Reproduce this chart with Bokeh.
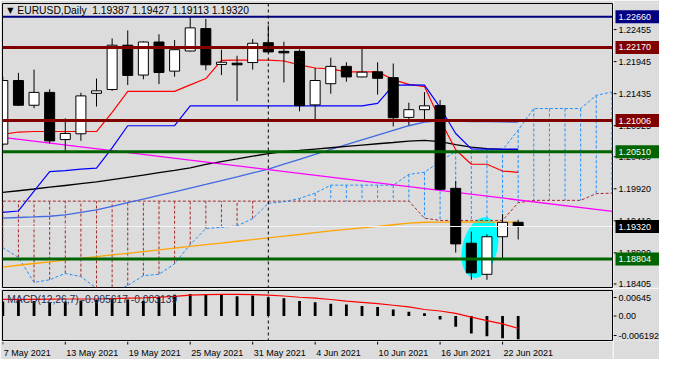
from bokeh.plotting import figure
from bokeh.layouts import column, row
from bokeh.models import Range1d, Label, Span
from bokeh.core.properties import value
from bokeh.embed import file_html
from bokeh.resources import INLINE

# ---------------- data ----------------
opens = [1.20632, 1.21644, 1.21250, 1.21455, 1.20704, 1.20796, 1.21440, 1.21501, 1.22206, 1.21731,
         1.22257, 1.21793, 1.22114, 1.22471, 1.21900, 1.21920, 1.21930, 1.22246, 1.22108, 1.22108,
         1.21256, 1.21593, 1.21869, 1.21701, 1.21782, 1.21690, 1.21057, 1.21180, 1.21245, 1.19927,
         1.19054, 1.18559, 1.19157, 1.19387]
highs = [1.21705, 1.21766, 1.21817, 1.21506, 1.21042, 1.21449, 1.21675, 1.22314, 1.22441, 1.22268,
         1.22380, 1.22288, 1.22651, 1.22625, 1.22134, 1.22038, 1.22303, 1.22522, 1.22262, 1.22139,
         1.21843, 1.22007, 1.21935, 1.22160, 1.21935, 1.21915, 1.21291, 1.21460, 1.21333, 1.20045,
         1.19238, 1.19196, 1.19518, 1.19427]
lows = [1.20610, 1.21240, 1.21204, 1.20643, 1.20505, 1.20683, 1.21230, 1.21480, 1.21572, 1.21664,
        1.21587, 1.21705, 1.22105, 1.21808, 1.21731, 1.21317, 1.21817, 1.22090, 1.21613, 1.21153,
        1.21016, 1.21434, 1.21624, 1.21695, 1.21419, 1.20913, 1.20934, 1.20990, 1.19900, 1.18905,
        1.18472, 1.18472, 1.18804, 1.19113]
closes = [1.21644, 1.21250, 1.21455, 1.20683, 1.20801, 1.21399, 1.21480, 1.22206, 1.21725, 1.22257,
          1.21771, 1.22134, 1.22482, 1.21894, 1.21935, 1.21894, 1.22237, 1.22099, 1.22084, 1.21245,
          1.21644, 1.21869, 1.21701, 1.21777, 1.21679, 1.21051, 1.21180, 1.21241, 1.19912, 1.19043,
          1.18583, 1.19157, 1.19386, 1.19320]

tenkan = [1.20786, 1.20824, 1.20832, 1.20832, 1.20832, 1.20832, 1.20832, 1.21138, 1.21471, 1.21471,
          1.21471, 1.21471, 1.21575, 1.21675, 1.21966, 1.21970, 1.21970, 1.21970, 1.21955, 1.21894,
          1.21843, 1.21828, 1.21782, 1.21782, 1.21782, 1.21659, 1.21583, 1.21547, 1.21016, 1.20541,
          1.20311, 1.20311, 1.20203, 1.20183]
kijun = [1.19544, 1.19567, 1.19882, 1.20193, 1.20211, 1.20234, 1.20249, 1.20571, 1.20924, 1.20924,
         1.20924, 1.20924, 1.21241, 1.21241, 1.21241, 1.21241, 1.21241, 1.21241, 1.21241, 1.21241,
         1.21241, 1.21241, 1.21241, 1.21241, 1.21281, 1.21567, 1.21575, 1.21572, 1.21215, 1.20801,
         1.20556, 1.20551, 1.20551, 1.20551]
senkou_a = [1.18982, 1.18829, 1.18430, 1.18472, 1.18574, 1.18522, 1.18334, 1.18272, 1.18380, 1.18537,
            1.18559, 1.18727, 1.19034, 1.19288, 1.19307, 1.19330, 1.19445, 1.19690, 1.19713, 1.19767,
            1.19851, 1.19978, 1.19978, 1.19978, 1.19978, 1.19978, 1.20150, 1.20183, 1.20357, 1.20513,
            1.20522, 1.20533, 1.20541, 1.20855, 1.21198, 1.21198, 1.21198, 1.21198, 1.21408, 1.21462]
senkou_b = [1.19724] * 27 + [1.19452] + [1.19417] * 5 + [1.19698] + [1.19736] * 4 + [1.19843, 1.19851]

ma_black = [1.19862, 1.19889, 1.19917, 1.19946, 1.19973, 1.20001, 1.20029, 1.20065, 1.20102, 1.20139,
            1.20176, 1.20212, 1.20255, 1.20308, 1.20354, 1.20395, 1.20439, 1.20481, 1.20513, 1.20531,
            1.20553, 1.20574, 1.20596, 1.20617, 1.20637, 1.20657, 1.20678, 1.20691, 1.20671, 1.20625,
            1.20582, 1.20559, 1.20547, 1.20541]
ma_blue = [1.19452, 1.19463, 1.19472, 1.19483, 1.19506, 1.19544, 1.19583, 1.19641, 1.19699, 1.19757,
           1.19814, 1.19872, 1.19931, 1.19989, 1.20050, 1.20111, 1.20173, 1.20234, 1.20312, 1.20390,
           1.20468, 1.20547, 1.20623, 1.20698, 1.20773, 1.20849, 1.20924, 1.20980, 1.21000, 1.20996,
           1.20991, 1.20988, 1.20985, 1.20982]
ma_orange = [1.18675, 1.18703, 1.18731, 1.18757, 1.18784, 1.18812, 1.18839, 1.18867, 1.18893, 1.18921,
             1.18948, 1.18976, 1.19003, 1.19031, 1.19057, 1.19085, 1.19112, 1.19140, 1.19166, 1.19193,
             1.19221, 1.19249, 1.19275, 1.19299, 1.19322, 1.19348, 1.19373, 1.19388, 1.19391, 1.19392,
             1.19392, 1.19391, 1.19389, 1.19388]

trend_x = [0, 39.04]
trend_y = [1.20740, 1.19560]

level_prices = [1.22660, 1.22170, 1.21006, 1.20510, 1.18804]
level_colors = ["#000080", "#800000", "#800000", "#006400", "#006400"]
level_widths = [2, 3, 3, 3, 3]
bid_price = 1.19320

macd_main = [0.0037, 0.0040, 0.0038, 0.0035, 0.0036, 0.0039, 0.0041, 0.0043, 0.0042, 0.00385,
             0.0049, 0.0054, 0.00555, 0.00555, 0.00555, 0.0050, 0.0052, 0.00474, 0.0045, 0.0038,
             0.00345, 0.0031, 0.0029, 0.00255, 0.0023, 0.00166, 0.0011, 0.0007, -0.0009, -0.0027,
             -0.0044, -0.0051, -0.0056, -0.0059]
macd_signal = [0.0042, 0.0042, 0.0042, 0.00425, 0.0043, 0.0043, 0.0043, 0.0044, 0.0045, 0.00457,
               0.00474, 0.00498, 0.0053, 0.0054, 0.00547, 0.00547, 0.0054, 0.0053, 0.00506, 0.00474,
               0.0045, 0.00418, 0.00377, 0.00345, 0.00311, 0.00272, 0.00231, 0.00165, 0.00126, 0.00068,
               -0.00029, -0.00118, -0.00199, -0.00314]

date_ticks = [0, 4, 8, 12, 16, 20, 24, 28, 32]
date_labels = ["7 May 2021", "13 May 2021", "19 May 2021", "25 May 2021", "31 May 2021",
               "4 Jun 2021", "10 Jun 2021", "16 Jun 2021", "22 Jun 2021"]
price_ticks = [1.22455, 1.21945, 1.21435, 1.20925, 1.20430, 1.19920, 1.19410, 1.18900, 1.18405]
macd_tick_labels = ["0.00645", "0.00", "-0.006192"]
marker_bar = 17
ellipse_center = (30.55, 1.18985)

header = "EURUSD,Daily\u00a0\u00a01.19387 1.19427 1.19113 1.19320"
macd_header = "MACD(12,26,7) -0.005617 -0.003139"

# ---------------- style ----------------
BG = "#dcdcdc"
FONT = "Liberation Sans"
FS = "9px"
HFS = "10.3px"
X_START, X_END = -0.02, 39.04
Y_LO, Y_HI = 1.18349, 1.22870
M_LO, M_HI = -0.006192, 0.00645
PX_PER_PRICE = 284 / (Y_HI - Y_LO)
PX_PER_MACD = 50 / (M_HI - M_LO)

xr = Range1d(X_START, X_END)
yr = Range1d(Y_LO, Y_HI)
myr = Range1d(M_LO, M_HI)


def base_fig(w, h, x_range, y_range, l, r, t, b):
    f = figure(width=w, height=h, x_range=x_range, y_range=y_range,
               output_backend="svg", toolbar_location=None,
               x_axis_location=None, y_axis_location=None,
               min_border_left=l, min_border_right=r, min_border_top=t, min_border_bottom=b)
    f.background_fill_color = BG
    f.border_fill_color = BG
    f.outline_line_color = None
    f.grid.visible = False
    return f


# ---------------- main price panel ----------------
p = base_fig(613, 288, xr, yr, 2, 1, 3, 1)
p.outline_line_color = "black"

idx = list(range(len(opens)))
cidx = list(range(len(senkou_a)))

p.ellipse(x=[ellipse_center[0]], y=[ellipse_center[1]], width=35, height=62,
          width_units="screen", height_units="screen", angle=-0.24,
          fill_color="#00ffff", line_color=None)

cloud_colors = ["#1e90ff" if a > b else "#a52a2a" for a, b in zip(senkou_a, senkou_b)]
p.segment(x0=cidx, y0=senkou_a, x1=cidx, y1=senkou_b, line_color=cloud_colors,
          line_width=1, line_dash="3 2")
p.line(cidx, senkou_b, line_color="#a52a2a", line_width=1, line_dash="3 2")
p.line(cidx, senkou_a, line_color="#1e90ff", line_width=1, line_dash="3 2")

p.line(idx, ma_orange, line_color="#ffa500", line_width=1.3)
p.line(idx, ma_blue, line_color="#4169e1", line_width=1.3)
p.line(idx, ma_black, line_color="black", line_width=1.3)
p.line(trend_x, trend_y, line_color="#ff00ff", line_width=1.3)

p.line(idx, tenkan, line_color="#ff0000", line_width=1.2)
p.line(idx, kijun, line_color="#0000ff", line_width=1.2)

for lp, lc, lw in zip(level_prices, level_colors, level_widths):
    p.add_layout(Span(location=lp, dimension="width", line_color=lc, line_width=lw))
p.add_layout(Span(location=bid_price, dimension="width", line_color="#f4f4f8", line_width=1))

body_top = [max(o, c) for o, c in zip(opens, closes)]
body_bot = [min(o, c) for o, c in zip(opens, closes)]
body_col = ["white" if c >= o else "black" for o, c in zip(opens, closes)]
p.segment(x0=idx, y0=lows, x1=idx, y1=highs, line_color="black", line_width=1)
p.vbar(x=idx, top=body_top, bottom=body_bot, width=0.64, fill_color=body_col,
       line_color="black", line_width=1)

p.add_layout(Span(location=marker_bar, dimension="height", line_color="black",
                  line_width=1, line_dash="3 3"))

p.add_layout(Label(x=0.28, y=Y_HI - 7 / PX_PER_PRICE, text="\u25bc", text_font="DejaVu Sans",
                   text_font_size="8px", text_baseline="middle", text_color="black"))
p.add_layout(Label(x=0.93, y=Y_HI - 7 / PX_PER_PRICE, text=header, text_font=FONT,
                   text_font_size=HFS, text_baseline="middle", text_color="black"))

# ---------------- price scale (right) ----------------
ps = base_fig(46, 288, Range1d(0, 46), yr, 0, 0, 3, 1)
ps.segment(x0=0, y0=price_ticks, x1=3, y1=price_ticks, line_color="black", line_width=1)
ps.text(x=5, y=price_ticks, text=[f"{t:.5f}" for t in price_ticks], text_font=value(FONT),
        text_font_size=value(FS), text_baseline="middle", text_align="left", text_color="black")
hl_prices = level_prices + [bid_price]
hl_colors = level_colors + ["black"]
ps.rect(x=24, y=hl_prices, width=44, height=13, height_units="screen",
        fill_color=hl_colors, line_color=None)
ps.text(x=5, y=hl_prices, text=[f"{v:.5f}" for v in hl_prices], text_font=value(FONT),
        text_font_size=value(FS), text_baseline="middle", text_align="left", text_color="white")

# ---------------- MACD panel ----------------
q = base_fig(613, 53, xr, myr, 2, 1, 2, 1)
q.outline_line_color = "black"
q.vbar(x=idx, top=macd_main, bottom=0, width=0.18, fill_color="black", line_color=None)
q.line(idx, macd_signal, line_color="#ff0000", line_width=1.2)
q.add_layout(Span(location=marker_bar, dimension="height", line_color="black",
                  line_width=1, line_dash="3 3"))
q.add_layout(Label(x=0.28, y=M_HI - 8.5 / PX_PER_MACD, text=macd_header, text_font=FONT,
                   text_font_size=HFS, text_baseline="middle", text_color="#1f2f4f"))

m_ticks = [M_HI - 7 / PX_PER_MACD, 0, M_LO + 5 / PX_PER_MACD]
qs = base_fig(46, 71, Range1d(0, 46), myr, 0, 0, 2, 19)
qs.segment(x0=0, y0=m_ticks, x1=3, y1=m_ticks, line_color="black", line_width=1)
qs.text(x=5, y=m_ticks, text=macd_tick_labels, text_font=value(FONT),
        text_font_size=value(FS), text_baseline="middle", text_align="left", text_color="black")

# ---------------- date strip ----------------
d = base_fig(613, 18, xr, Range1d(0, 18), 2, 1, 0, 0)
d.segment(x0=date_ticks, y0=18, x1=date_ticks, y1=15, line_color="black", line_width=1)
d.text(x=date_ticks, y=7, text=date_labels, text_font=value(FONT), text_font_size=value(FS),
       text_baseline="middle", text_align="left", text_color="black", x_offset=1)

layout = row(column(p, q, d), column(ps, qs))
open("out.html", "w").write(file_html(layout, INLINE))
